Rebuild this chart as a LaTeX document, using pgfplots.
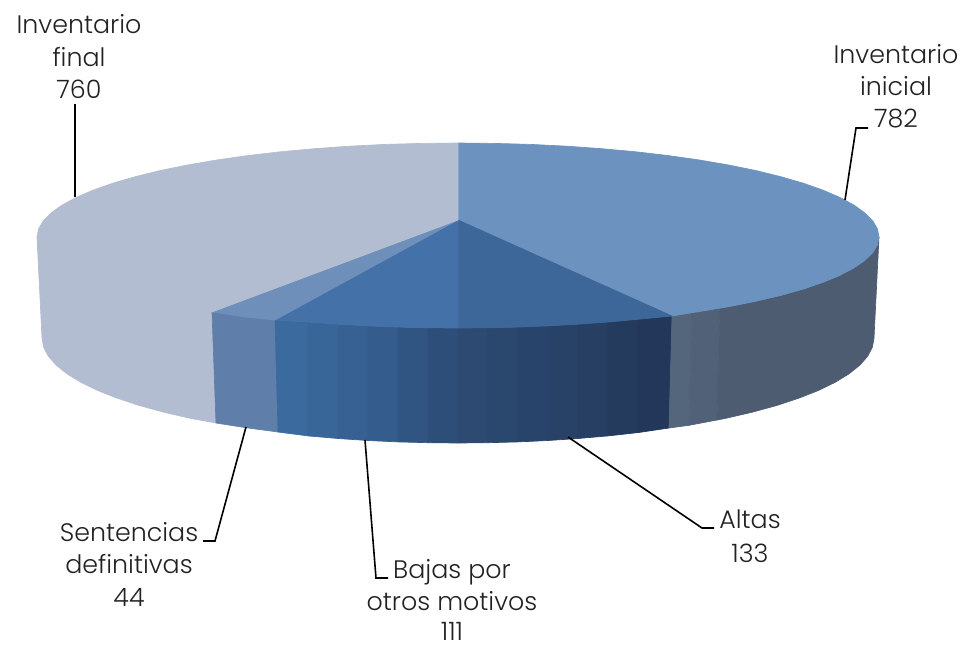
\documentclass[border=0pt]{standalone}
\usepackage{pgfplots}
\pgfplotsset{compat=1.18}
\usepackage{fontspec}
\setmainfont{Poppins}[UprightFont=* Light]
\definecolor{topini}{HTML}{6C93BF}
\definecolor{topalt}{HTML}{3D6699}
\definecolor{topbaj}{HTML}{4371A8}
\definecolor{topsen}{HTML}{6F8FBB}
\definecolor{topfin}{HTML}{B3BDD2}
\definecolor{senwall}{HTML}{5F7FAA}
\definecolor{bajA}{HTML}{3A6A9E}
\definecolor{bajB}{HTML}{2E4E7A}
\definecolor{altA}{HTML}{2C4A72}
\definecolor{altB}{HTML}{223759}
\definecolor{iniA}{HTML}{53667C}
\definecolor{iniB}{HTML}{506178}
\definecolor{iniC}{HTML}{4E5C72}
\definecolor{lbl}{HTML}{222222}
\pgfplotsset{
  w/.style={fill=#1,draw=#1,line width=0.5pt,line join=round},
  lead/.style={black,line width=1.2pt},
}
\begin{document}
\begin{tikzpicture}
\begin{axis}[
  scale only axis,width=723.75pt,height=485.25pt,
  xmin=0,xmax=965,ymin=0,ymax=647,y dir=reverse,
  hide axis,clip=false]
\path (axis cs:0,0) rectangle (axis cs:965,647);
% walls
\addplot[w=topfin] coordinates {(37,237)(38.6,244.9)(43.3,252.8)(51.4,260.6)(62.4,268.1)(76.4,275.5)(93.4,282.5)(113.1,289.2)(135.5,295.5)(160.3,301.3)(187.4,306.7)(212,312)(216,423)(190.6,418.4)(163.8,412.2)(139.3,405.5)(117.2,398.2)(97.7,390.5)(81,382.4)(67.1,373.9)(56.2,365.2)(48.3,356.2)(43.6,347.2)(42,338)} --cycle;
\addplot[w=senwall] coordinates {(212,312)(245,317)(275,320)(278,432)(248,428)(216,423)} --cycle;
\addplot[w=bajA] coordinates {(275,320)(308,322)(308,435.9)(278,432)} --cycle;
\addplot[w={bajA!84!bajB}] coordinates {(308,322)(338,324.2)(338,438.5)(308,435.9)} --cycle;
\addplot[w={bajA!67!bajB}] coordinates {(338,324.2)(368,325.9)(368,440.5)(338,438.5)} --cycle;
\addplot[w={bajA!50!bajB}] coordinates {(368,325.9)(398,327.1)(398,441.9)(368,440.5)} --cycle;
\addplot[w={bajA!25!bajB}] coordinates {(398,327.1)(428,327.8)(428,442.7)(398,441.9)} --cycle;
\addplot[w=bajB] coordinates {(428,327.8)(458,328)(458,443)(428,442.7)} --cycle;
\addplot[w=altA] coordinates {(458,328)(488,327.8)(488,442.7)(458,443)} --cycle;
\addplot[w={altA!85!altB}] coordinates {(488,327.8)(518,327.1)(518,441.9)(488,442.7)} --cycle;
\addplot[w={altA!70!altB}] coordinates {(518,327.1)(548,325.9)(548,440.5)(518,441.9)} --cycle;
\addplot[w={altA!55!altB}] coordinates {(548,325.9)(578,324.2)(578,438.5)(548,440.5)} --cycle;
\addplot[w={altA!40!altB}] coordinates {(578,324.2)(608,322)(608,435.9)(578,438.5)} --cycle;
\addplot[w={altA!20!altB}] coordinates {(608,322)(638,319.3)(638,432.6)(608,435.9)} --cycle;
\addplot[w=altB] coordinates {(638,319.3)(672,316)(669,428)(638,432.6)} --cycle;
\addplot[w=iniA] coordinates {(672,316)(692,312.6)(689,425.3)(669,428)} --cycle;
\addplot[w=iniB] coordinates {(692,312.6)(720,308.2)(717,420)(689,425.3)} --cycle;
\addplot[w=iniC] coordinates {(720,308.2)(755.7,301.3)(780.5,295.5)(802.9,289.2)(822.6,282.5)(839.6,275.5)(853.6,268.1)(864.6,260.6)(872.7,252.8)(877.4,244.9)(879,237)(874,338)(872.4,347.2)(867.7,356.2)(859.8,365.2)(848.9,373.9)(835,382.4)(818.3,390.5)(798.8,398.2)(776.7,405.5)(752.2,412.2)(725.4,418.4)(717,420)} --cycle;
% top faces
\addplot[w=topini] coordinates {(458,220)(458,143)(494.7,143.4)(531,144.4)(567,146.2)(602,148.7)(635.9,151.8)(668.5,155.6)(699.5,160)(728.6,165)(755.7,170.5)(780.5,176.6)(802.9,183.1)(822.6,190)(839.6,197.3)(853.7,204.9)(864.6,212.7)(872.7,220.7)(877.4,228.8)(879,237)(877.4,244.9)(872.7,252.8)(864.6,260.6)(853.6,268.1)(839.6,275.5)(822.6,282.5)(802.9,289.2)(780.5,295.5)(755.7,301.3)(728.6,306.7)(699.5,311.5)(672,316)} --cycle;
\addplot[w=topalt] coordinates {(458,220)(672,316)(638,319.3)(608,322)(578,324.2)(548,325.9)(518,327.1)(488,327.8)(458,328)} --cycle;
\addplot[w=topbaj] coordinates {(458,220)(458,328)(428,327.8)(398,327.1)(368,325.9)(338,324.2)(308,322)(275,320)} --cycle;
\addplot[w=topsen] coordinates {(458,220)(275,320)(245,317)(212,312)} --cycle;
\addplot[w=topfin] coordinates {(458,220)(212,312)(187.4,306.7)(160.3,301.3)(135.5,295.5)(113.1,289.2)(93.4,282.5)(76.4,275.5)(62.4,268.1)(51.4,260.6)(43.3,252.8)(38.6,244.9)(37,237)(38.6,228.8)(43.3,220.7)(51.4,212.7)(62.3,204.9)(76.4,197.3)(93.4,190)(113.1,183.1)(135.5,176.6)(160.3,170.5)(187.4,165)(216.5,160)(247.5,155.6)(280.1,151.8)(314,148.7)(349,146.2)(385,144.4)(421.3,143.4)(458,143)} --cycle;
% leaders
\addplot[lead] coordinates {(75,104)(75,197)};
\addplot[lead] coordinates {(845,200)(856,128)(868,128)};
\addplot[lead] coordinates {(568,437)(702,528)(714,528)};
\addplot[lead] coordinates {(365,440)(376,578)(388,578)};
\addplot[lead] coordinates {(246,427)(215,541)(203,541)};
% labels
\tikzset{lab/.style={text=lbl,anchor=base,inner sep=0pt,font=\fontsize{19pt}{24pt}\selectfont}}
\node[lab] at (axis cs:79,33) {Inventario};
\node[lab] at (axis cs:79,66) {final};
\node[lab] at (axis cs:79,98) {760};
\node[lab] at (axis cs:896,63) {Inventario};
\node[lab] at (axis cs:896,95) {inicial};
\node[lab] at (axis cs:896,127) {782};
\node[lab] at (axis cs:750,528) {Altas};
\node[lab] at (axis cs:750,562) {133};
\node[lab] at (axis cs:129,541) {Sentencias};
\node[lab] at (axis cs:129,573) {definitivas};
\node[lab] at (axis cs:129,606) {44};
\node[lab] at (axis cs:452,578) {Bajas por};
\node[lab] at (axis cs:452,610) {otros motivos};
\node[lab] at (axis cs:452,640) {111};
\end{axis}
\end{tikzpicture}
\end{document}
